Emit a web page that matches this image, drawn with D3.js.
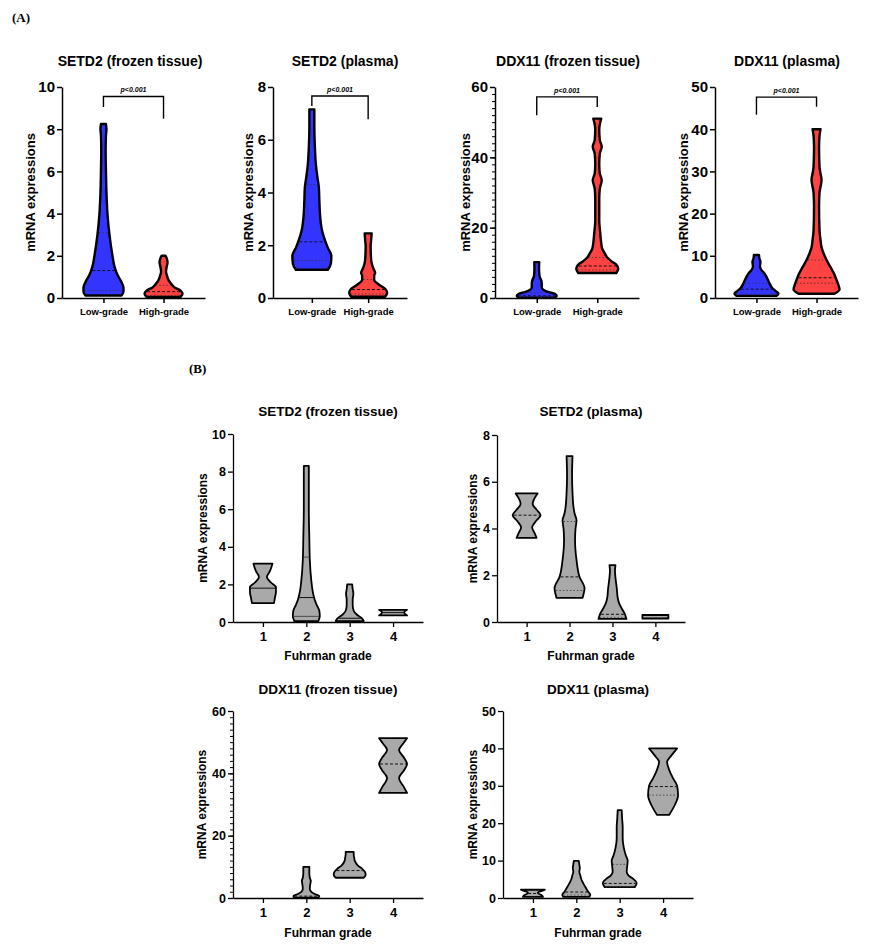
<!DOCTYPE html>
<html><head><meta charset="utf-8">
<script src="https://cdn.jsdelivr.net/npm/d3@7"></script>
<style>
body{margin:0;background:#fff;}
svg text{font-weight:bold;fill:#000;}
</style>
</head><body>
<svg id="chart" width="875" height="946"></svg>
<script>
// ---------------- DATA ----------------
const gradeGroups = ["Low-grade", "High-grade"];
const fuhrmanGrades = ["1", "2", "3", "4"];
const pValueLabel = "p<0.001";
const yLabel = "mRNA expressions";
const xLabelB = "Fuhrman grade";

// violin profiles: [mRNA expression value, relative density]
// Panel A
const setd2TissueLow  = [[0.12,18],[0.3,20],[0.5,20],[0.8,17.5],[1.1,14],[1.5,11],[2,9],[3,6],[4,4],[5,3],[6,2.5],[7,2.2],[7.7,2.5],[8.0,3],[8.25,2.5]];
const setd2TissueHigh = [[0.05,17],[0.2,19],[0.35,17],[0.5,11],[0.65,8],[0.85,5],[1.05,3.5],[1.25,2.5],[1.45,3],[1.7,4],[1.9,3],[2.0,2]];
const setd2PlasmaLow  = [[1.07,16],[1.3,19],[1.6,19.5],[1.9,16],[2.2,13],[2.6,10],[3.1,8.3],[3.7,7.5],[4.2,7],[4.6,5.5],[5.0,4.2],[5.75,3],[6.5,2.5],[7.15,2.5]];
const setd2PlasmaHigh = [[0.05,17],[0.2,19],[0.35,17],[0.5,11],[0.69,6],[0.85,6],[0.95,7],[1.1,5.5],[1.25,4],[1.45,3],[1.95,2.5],[2.2,3],[2.45,3.5]];
const ddx11TissueLow  = [[0.1,18],[0.6,20],[1.2,18],[1.7,12],[2.3,7],[3,5],[4,5],[5,4.5],[6,3],[7,2.5],[8.5,2.3],[10.2,2.5]];
const ddx11TissueHigh = [[7.1,19],[8.3,21],[9.5,19],[10.5,14],[11.5,10],[12.7,7.5],[14,5],[15.6,4],[18.5,3],[22,2],[28,2],[31,2.5],[33.5,4.5],[35.5,2.5],[38,2],[41,2.5],[43,4.5],[45,2.5],[48,2],[50,3],[51,4]];
const ddx11PlasmaLow  = [[0.5,20],[1,22],[1.5,20],[2.3,16],[3.5,13],[5,10],[6,7.5],[6.6,5],[7.5,3.5],[8.6,4],[9.3,3],[10.2,2.5]];
const ddx11PlasmaHigh = [[1.0,18],[2,23],[3,22],[4.3,20],[5.5,18],[7.3,14],[9,10],[10.6,7],[12,5],[13.7,4],[16,3],[21.6,2.5],[25,3],[27,4.5],[28,5],[29.5,4],[31,3],[35.8,2.5],[38.5,3],[40,4]];

// Panel B (Fuhrman grade 1..4; null = no data)
const setd2TissueGrades = [
  [[1.0,11],[1.3,12],[1.6,13],[1.85,13],[2.1,8],[2.4,4],[2.7,7],[3.1,9.5]],
  [[0.05,12],[0.3,13.5],[0.6,13],[0.9,10.5],[1.2,8.3],[1.6,6.5],[2.2,5],[3.3,3.5],[4.5,3],[6,2.5],[8.3,2.5]],
  [[0.05,14],[0.2,12],[0.4,7],[0.6,4],[0.9,3],[1.2,3],[1.5,3.7],[1.75,3],[2.0,2.5]],
  [[0.35,14],[0.5,11],[0.65,14]]
];
const setd2PlasmaGrades = [
  [[3.6,10],[3.8,8],[4.05,5.5],[4.3,9],[4.57,14],[4.8,10],[5.05,6],[5.3,8],[5.5,11]],
  [[1.03,13],[1.45,15],[1.93,10],[2.65,7],[3.5,5.5],[4.0,6],[4.35,7],[4.65,5],[4.9,4],[5.5,3],[6.3,2.5],[7.1,3]],
  [[0.13,14],[0.38,12],[0.6,9],[0.8,6.7],[1.1,5],[1.37,4.5],[1.9,3],[2.2,2.5],[2.43,3]],
  [[0.15,13],[0.3,13]]
];
const ddx11TissueGrades = [
  null,
  [[0.1,12],[0.6,13],[1.2,9],[2,5],[3,3.5],[4.5,4],[5.5,4.5],[6.5,3.5],[8,3],[10,3]],
  [[6.5,14],[7.5,16],[8.5,15],[9.5,12],[10.5,8],[12,5],[13,4.5],[14,4],[14.8,4]],
  [[33.7,14],[35.5,11],[38.5,6],[41,11],[43,14],[45,11],[47.5,6],[49.5,10],[51.3,14]]
];
const ddx11PlasmaGrades = [
  [[0.3,10],[0.7,9],[1.1,6],[1.5,5],[1.9,9],[2.2,12]],
  [[0.3,13],[0.9,14],[1.6,12],[2.5,10],[3.9,7],[5,5],[6,4],[7,3],[8,3.5],[9,3],[9.9,2.5]],
  [[2.9,15],[4,17],[5,14],[6,9],[7,7],[8.5,7.5],[10,8],[11.5,6],[13.6,4],[16,3],[19,3],[21,2.5],[23.5,2]],
  [[22.2,6],[23.5,9],[25,12],[27.5,15],[30,14],[32,10],[34,6.5],[36.4,4],[38,8],[39,11],[40,14]]
];

// median and quartiles: [median, q1, q3]
const setd2TissueStatsA = [[1.3,0.35,3.1],[0.3,0.12,0.6]];
const setd2PlasmaStatsA = [[2.13,1.42,4.3],[0.32,0.15,0.7]];
const ddx11TissueStatsA = [[0.6,0.2,1.5],[9.1,8.0,11.5]];
const ddx11PlasmaStatsA = [[2.1,0.9,3.5],[4.8,3.5,9]];
const setd2TissueStatsB = [[1.8,null,null],[1.3,0.3,3.45],[0.2,null,null],[0.5,null,null]];
const setd2PlasmaStatsB = [[4.57,null,null],[1.93,1.35,4.3],[0.33,0.2,null],[null,null,null]];
const ddx11TissueStatsB = [null,[0.6,null,null],[8.8,null,null],[43,null,null]];
const ddx11PlasmaStatsB = [[1.2,null,null],[1.6,0.8,null],[3.9,2.9,9],[29.8,27.5,null]];

// significance brackets (value units): [top, left leg end, right leg end]
const bracketSetd2Tissue = [9.55, 9.05, 8.5];
const bracketSetd2Plasma = [7.66, 7.28, 6.78];
const bracketDdx11Tissue = [57.2, 52, 54.3];
const bracketDdx11Plasma = [47.6, 43.4, 45.3];

// ---------------- DRAWING ----------------
const svg = d3.select("#chart");
const SANS = "'Liberation Sans', Arial, sans-serif";
const SERIF = "'Liberation Serif', 'Times New Roman', serif";
const BLUE = "#3434ff", RED = "#ff4242", GRAY = "#a9a9a9";

function interp(profile, v) {
  if (v <= profile[0][0]) return profile[0][1];
  for (let i = 0; i < profile.length - 1; i++) {
    const a = profile[i], b = profile[i + 1];
    if (v >= a[0] && v <= b[0]) return a[1] + (b[1] - a[1]) * (v - a[0]) / (b[0] - a[0]);
  }
  return profile[profile.length - 1][1];
}

function drawPanel(cfg) {
  const g = svg.append("g").style("font-family", SANS);
  const y = d3.scaleLinear().domain([0, cfg.yMax]).range([cfg.bottom, cfg.top]);
  const x = d3.scalePoint().domain(cfg.cats).range([cfg.axisX, cfg.right]).padding(0.69);
  const w = d3.scaleLinear().domain([0, 20]).range([0, 20]);

  // violins
  cfg.profiles.forEach((prof, i) => {
    if (!prof) return;
    const cx = x(cfg.cats[i]);
    const area = d3.area().curve(d3.curveMonotoneY)
      .y(d => y(d[0])).x0(d => cx - w(d[1])).x1(d => cx + w(d[1]));
    g.append("path").attr("d", area(prof))
      .attr("fill", cfg.colors[i]).attr("stroke", "#000")
      .attr("stroke-width", cfg.violinStroke).attr("stroke-linejoin", "round");
    const st = cfg.stats[i];
    if (st) {
      st.forEach((v, k) => {
        if (v == null) return;
        const hw = w(interp(prof, v)) - cfg.violinStroke / 2;
        g.append("line")
          .attr("x1", cx - hw).attr("x2", cx + hw)
          .attr("y1", y(v)).attr("y2", y(v))
          .attr("stroke", k === 0 ? "#111" : "#333")
          .attr("stroke-width", k === 0 ? 1 : 0.8)
          .attr("stroke-dasharray", cfg.solidStats ? null : (k === 0 ? "3,2" : "1.5,2"));
      });
    }
  });

  // y axis
  if (cfg.minor) {
    const minorAx = d3.axisLeft(y).tickValues(d3.range(0, cfg.yMax + 0.001, cfg.minor)).tickSize(3).tickFormat("");
    const mg = g.append("g").attr("transform", `translate(${cfg.axisX},0)`).call(minorAx);
    mg.select(".domain").remove();
    mg.selectAll("line").attr("stroke-width", 1);
  }
  const yAx = d3.axisLeft(y).tickValues(cfg.ticks).tickSize(5).tickPadding(2).tickSizeOuter(0);
  const ya = g.append("g").attr("transform", `translate(${cfg.axisX},0)`).call(yAx);
  ya.select(".domain").attr("stroke-width", cfg.axisStroke);
  ya.selectAll(".tick line").attr("stroke-width", cfg.axisStroke);
  ya.selectAll("text").attr("font-size", cfg.tickFont).style("font-family", SANS).attr("font-weight", "bold");

  // x axis
  const xAx = d3.axisBottom(x).tickSize(5).tickSizeOuter(0).tickPadding(cfg.xTickPad);
  const xa = g.append("g").attr("transform", `translate(0,${cfg.bottom})`).call(xAx);
  xa.select(".domain").attr("stroke-width", cfg.axisStroke);
  xa.selectAll(".tick line").attr("stroke-width", cfg.axisStroke);
  xa.selectAll("text").attr("font-size", cfg.xFont).style("font-family", SANS).attr("font-weight", "bold");

  // y label
  g.append("text").attr("transform", `translate(${cfg.axisX - cfg.yLabelOff},${(cfg.top + cfg.bottom) / 2}) rotate(-90)`)
    .attr("text-anchor", "middle").attr("dy", "0.35em").attr("font-size", cfg.yLabelFont).text(yLabel);
  // title
  g.append("text").attr("x", cfg.titleX).attr("y", cfg.titleY).attr("text-anchor", "middle")
    .attr("font-size", cfg.titleFont).text(cfg.title);
  // x label
  if (cfg.xLabel) {
    g.append("text").attr("x", (cfg.axisX + cfg.right) / 2).attr("y", cfg.xLabelY)
      .attr("text-anchor", "middle").attr("font-size", 12).text(cfg.xLabel);
  }
  // bracket
  if (cfg.bracket) {
    const [t, l, r] = cfg.bracket;
    const x0 = x(cfg.cats[0]), x1 = x(cfg.cats[1]);
    g.append("path").attr("d", d3.line()([[x0, y(l)], [x0, y(t)], [x1, y(t)], [x1, y(r)]]))
      .attr("fill", "none").attr("stroke", "#000").attr("stroke-width", 1.4);
    g.append("text").attr("x", (x0 + x1) / 2).attr("y", y(t) - 4).attr("text-anchor", "middle")
      .attr("font-size", 7).attr("font-style", "italic").text(pValueLabel);
  }
}

const common = {top: 87, bottom: 298, axisStroke: 1.5, violinStroke: 2.4, tickFont: 15, xFont: 9.5, xTickPad: 5,
  yLabelFont: 13, titleFont: 14, titleY: 66, colors: [BLUE, RED], cats: gradeGroups};

drawPanel({...common, title: "SETD2 (frozen tissue)", titleX: 130, axisX: 62, right: 205, yMax: 10, ticks: [0,2,4,6,8,10],
  profiles: [setd2TissueLow, setd2TissueHigh], stats: setd2TissueStatsA, bracket: bracketSetd2Tissue, yLabelOff: 32});
drawPanel({...common, title: "SETD2 (plasma)", titleX: 345, axisX: 273, right: 407, yMax: 8, ticks: [0,2,4,6,8],
  profiles: [setd2PlasmaLow, setd2PlasmaHigh], stats: setd2PlasmaStatsA, bracket: bracketSetd2Plasma, yLabelOff: 25});
drawPanel({...common, title: "DDX11 (frozen tissue)", titleX: 568, axisX: 495, right: 639, yMax: 60, ticks: [0,20,40,60], minor: 2,
  profiles: [ddx11TissueLow, ddx11TissueHigh], stats: ddx11TissueStatsA, bracket: bracketDdx11Tissue, yLabelOff: 30});
drawPanel({...common, title: "DDX11 (plasma)", titleX: 787, axisX: 715, right: 858, yMax: 50, ticks: [0,10,20,30,40,50],
  profiles: [ddx11PlasmaLow, ddx11PlasmaHigh], stats: ddx11PlasmaStatsA, bracket: bracketDdx11Plasma, yLabelOff: 32});

const commonB = {axisStroke: 1.3, violinStroke: 1.8, tickFont: 12.5, xFont: 13, xTickPad: 5, yLabelFont: 12, titleFont: 13.5,
  colors: [GRAY, GRAY, GRAY, GRAY], cats: fuhrmanGrades, xLabel: xLabelB};

drawPanel({...commonB, title: "SETD2 (frozen tissue)", titleX: 328, titleY: 416, top: 434, bottom: 622, axisX: 233, right: 423,
  yMax: 10, ticks: [0,2,4,6,8,10], profiles: setd2TissueGrades, stats: setd2TissueStatsB, solidStats: true, yLabelOff: 30, xLabelY: 660});
drawPanel({...commonB, title: "SETD2 (plasma)", titleX: 591, titleY: 416, top: 435, bottom: 622, axisX: 497, right: 685,
  yMax: 8, ticks: [0,2,4,6,8], profiles: setd2PlasmaGrades, stats: setd2PlasmaStatsB, yLabelOff: 24, xLabelY: 660});
drawPanel({...commonB, title: "DDX11 (frozen tissue)", titleX: 328, titleY: 694, top: 711, bottom: 898, axisX: 233, right: 423,
  yMax: 60, ticks: [0,20,40,60], minor: 2, profiles: ddx11TissueGrades, stats: ddx11TissueStatsB, yLabelOff: 31, xLabelY: 937});
drawPanel({...commonB, title: "DDX11 (plasma)", titleX: 598, titleY: 694, top: 711, bottom: 898, axisX: 503, right: 693,
  yMax: 50, ticks: [0,10,20,30,40,50], profiles: ddx11PlasmaGrades, stats: ddx11PlasmaStatsB, yLabelOff: 30, xLabelY: 937});

// panel letters
svg.append("text").attr("x", 12).attr("y", 22).style("font-family", SERIF)
  .attr("font-size", 13).text("(A)");
svg.append("text").attr("x", 189).attr("y", 373).style("font-family", SERIF)
  .attr("font-size", 13).text("(B)");
</script>
</body></html>
